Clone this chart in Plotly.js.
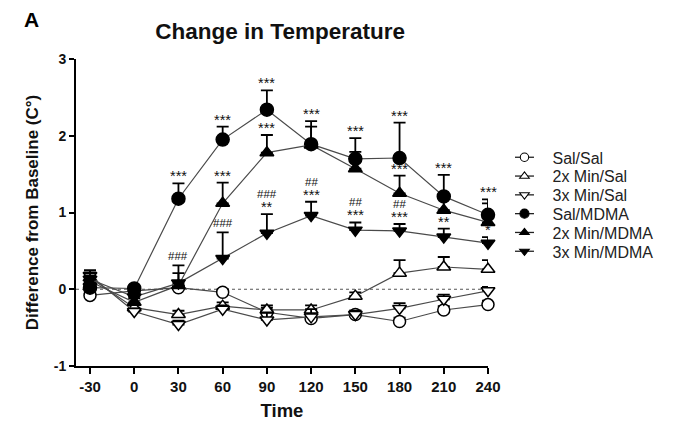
<!DOCTYPE html>
<html><head><meta charset="utf-8">
<script src="https://cdn.plot.ly/plotly-3.0.1.min.js"></script>
<style>body{margin:0;background:#fff}#chart{width:680px;height:421px}</style>
</head><body><div id="chart"></div>
<script>
// Data
const times = [-30, 0, 30, 60, 90, 120, 150, 180, 210, 240];
const tickLabels = ["-30","0","30","60","90","120","150","180","210","240"];
const seriesNames = ["Sal/Sal","2x Min/Sal","3x Min/Sal","Sal/MDMA","2x Min/MDMA","3x Min/MDMA"];

const salSal      = [-0.08, -0.02, 0.02, -0.04, -0.30, -0.38, -0.33, -0.42, -0.27, -0.20];
const salSalErr   = [0.08, 0.03, 0.03, 0.04, 0.06, 0.05, 0.05, 0.05, 0.05, 0.05];
const min2Sal     = [0.15, -0.24, -0.33, -0.22, -0.27, -0.27, -0.09, 0.21, 0.29, 0.26];
const min2SalErr  = [0.07, 0.04, 0.05, 0.05, 0.06, 0.06, 0.05, 0.17, 0.13, 0.12];
const min3Sal     = [0.18, -0.29, -0.46, -0.26, -0.40, -0.36, -0.33, -0.25, -0.13, -0.02];
const min3SalErr  = [0.07, 0.04, 0.05, 0.05, 0.10, 0.10, 0.05, 0.07, 0.06, 0.05];
const salMdma     = [0.02, 0.01, 1.18, 1.95, 2.34, 1.89, 1.70, 1.71, 1.21, 0.97];
const salMdmaErr  = [0.06, 0.04, 0.20, 0.17, 0.25, 0.30, 0.27, 0.46, 0.28, 0.20];
const min2Mdma    = [0.10, -0.17, 0.05, 1.12, 1.78, 1.88, 1.57, 1.25, 1.03, 0.87];
const min2MdmaErr = [0.08, 0.05, 0.16, 0.27, 0.23, 0.24, 0.22, 0.23, 0.20, 0.25];
const min3Mdma    = [0.13, -0.10, 0.08, 0.40, 0.73, 0.96, 0.77, 0.76, 0.68, 0.60];
const min3MdmaErr = [0.08, 0.05, 0.23, 0.34, 0.25, 0.18, 0.10, 0.09, 0.11, 0.08];

// significance marks: time, series index, label lines (bottom first)
const sigTimes  = [30, 30, 60, 60, 60, 90, 90, 90, 120, 120, 150, 150, 180, 180, 180, 210, 210, 240, 240];
const sigSeries = [3, 5, 3, 4, 5, 3, 4, 5, 3, 5, 3, 5, 3, 4, 5, 3, 5, 3, 5];
const sigLabels = [["***"],["###"],["***"],["***"],["###"],["***"],["***"],["**","###"],["***"],["***","##"],["***"],["***","##"],["***"],["***"],["***","##"],["***"],["**"],["***"],["*"]];

const vals = [salSal, min2Sal, min3Sal, salMdma, min2Mdma, min3Mdma];
const errs = [salSalErr, min2SalErr, min3SalErr, salMdmaErr, min2MdmaErr, min3MdmaErr];
const symbols = ["circle","triangle-up","triangle-down","circle","triangle-up","triangle-down"];
const fills = ["#ffffff","#ffffff","#ffffff","#000000","#000000","#000000"];

const FONT = "Liberation Sans, Arial, Helvetica, sans-serif";
const traces = vals.map((v, i) => ({
  x: times, y: v, name: seriesNames[i], type: "scatter", mode: "lines+markers",
  cliponaxis: false,
  line: {color: "#4a4a4a", width: 1.2},
  marker: {symbol: symbols[i], size: i === 3 ? 13 : 12, color: fills[i], line: {color: "#000", width: 1.5}},
  error_y: {type: "data", symmetric: false, array: errs[i], arrayminus: errs[i].map(() => 0),
            color: "#000", thickness: 1.8, width: 6}
}));

const fmtLab = lab => lab.indexOf("*") >= 0
  ? `<span style="font-size:14.5px">${lab}</span>`
  : `<span style="font-size:11.5px">${lab}</span>`;
const annotations = [];
sigTimes.forEach((t, k) => {
  const s = sigSeries[k];
  const idx = times.indexOf(t);
  const top = vals[s][idx] + errs[s][idx];
  const lines = sigLabels[k].slice().reverse().map(fmtLab).join("<br>");
  const bottomIsStar = sigLabels[k][0].indexOf("*") >= 0;
  annotations.push({x: t, y: top, xref: "x", yref: "y", text: lines, showarrow: false,
    yanchor: "bottom", yshift: bottomIsStar ? -3 : 1,
    font: {family: FONT, size: 10.5, color: "#111"}});
});
annotations.push({xref: "paper", yref: "paper", x: -0.13, y: 1.13, text: "<b>A</b>", showarrow: false,
  xanchor: "left", yanchor: "middle", font: {family: FONT, size: 21, color: "#000"}});

const layout = {
  width: 680, height: 421,
  margin: {l: 76, r: 192, t: 59, b: 55},
  paper_bgcolor: "#fff", plot_bgcolor: "#fff",
  font: {family: FONT, color: "#000"},
  title: {text: "<b>Change in Temperature</b>", x: 0.412, xanchor: "center", y: 0.926, yanchor: "middle",
          font: {family: FONT, size: 22.5, color: "#111"}},
  showlegend: true,
  legend: {x: 1.04, y: 0.735, xanchor: "left", yanchor: "top", font: {family: FONT, size: 16, color: "#222"},
           tracegroupgap: 0, itemwidth: 30, bgcolor: "rgba(0,0,0,0)"},
  xaxis: {range: [-39.5, 240], tickmode: "array", tickvals: times, ticktext: tickLabels,
          ticks: "outside", ticklen: 6, tickwidth: 2, tickcolor: "#000",
          showline: true, linewidth: 2, linecolor: "#000", showgrid: false, zeroline: false,
          tickfont: {family: FONT, size: 15, weight: "bold", color: "#111"},
          title: {text: "<b>Time</b>", font: {family: FONT, size: 18.5, color: "#111"}, standoff: 17}},
  yaxis: {range: [-1, 3], tickmode: "array", tickvals: [-1, 0, 1, 2, 3], ticktext: ["-1","0","1","2","3"],
          ticks: "outside", ticklen: 5, tickwidth: 2, tickcolor: "#000",
          showline: true, linewidth: 2, linecolor: "#000", showgrid: false, zeroline: false,
          tickfont: {family: FONT, size: 14, weight: "bold", color: "#111"},
          title: {text: "<b>Difference from Baseline (C°)</b>", font: {family: FONT, size: 17, color: "#111"}, standoff: 11}},
  shapes: [{type: "line", xref: "paper", yref: "y", x0: 0, x1: 1, y0: 0, y1: 0,
            line: {color: "#555", width: 1, dash: "dot"}, layer: "below"}],
  annotations: annotations
};
Plotly.newPlot("chart", traces, layout, {displayModeBar: false, staticPlot: true}).then(gd => {
  // tighten legend rows, shorten symbol lines and shrink legend markers, like the reference
  const box = gd.querySelector(".legend .scrollbox");
  if (box) box.removeAttribute("clip-path");
  const rows = gd.querySelectorAll(".legend .traces");
  let y0 = null;
  rows.forEach((el, i) => {
    const m = /translate\(([-\d.]+),\s*([-\d.]+)\)/.exec(el.getAttribute("transform") || "");
    const tx = m ? parseFloat(m[1]) : 0, ty = m ? parseFloat(m[2]) : 0;
    if (y0 === null) y0 = ty;
    el.setAttribute("transform", `translate(${tx},${y0 + i * 18.8})`);
    el.querySelectorAll(".legendlines path.js-line").forEach(p => {
      p.setAttribute("d", "M10.5,0h19");
      p.style.stroke = "#222";
      p.style.strokeWidth = "1.3px";
    });
    el.querySelectorAll(".legendpoints path.scatterpts").forEach(p => p.setAttribute("transform", "translate(20,0) scale(0.7)"));
    el.querySelectorAll("text.legendtext").forEach(t => t.setAttribute("x", "48"));
  });
});
</script>
</body></html>
